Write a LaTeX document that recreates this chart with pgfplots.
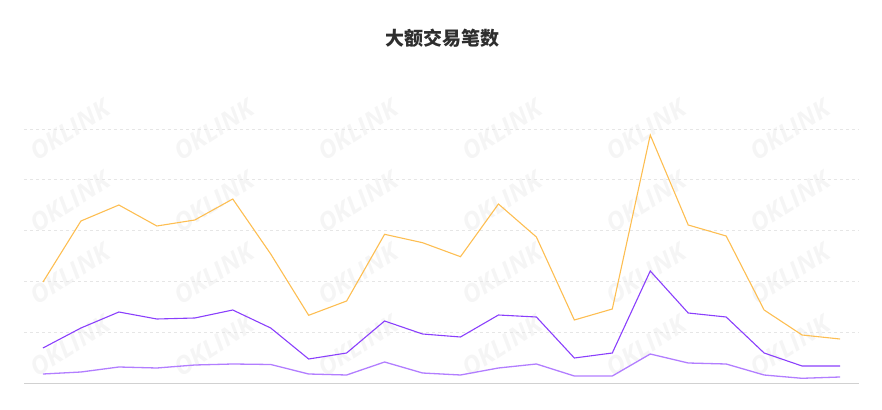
\documentclass[border=0pt]{standalone}
\usepackage{fontspec}
\usepackage{pgfplots}
\pgfplotsset{compat=1.18}
\setmainfont{Noto Sans}
\newfontfamily\cjk{Noto Sans CJK SC}
\newfontfamily\wm{Open Sans}
\definecolor{ylw}{HTML}{FDBE52}
\definecolor{pur}{HTML}{8A3FFC}
\definecolor{lpur}{HTML}{B27EFF}
\definecolor{gridc}{HTML}{E6E6E6}
\pgfdeclarelayer{bg}
\pgfsetlayers{bg,main}

% heights (one grid step = 50.8)
\pgfplotstableread{
x  big   mid  small
0  101   35   9
1  162   55   11
2  178   71   16
3  157   64   15
4  163   65   18
5  184   73   19
6  129   55   18.5
7  67.7  24   9
8  82    30   8
9  148.7 62   21
10 140.3 49   10
11 126.3 46   8
12 179   68   15
13 146   66   19
14 63    25   7
15 74    30   7
16 248   112  29
17 158   70   20
18 147   66   19
19 73    30   8
20 48    17   4.7
21 44    17   6
}\datatab

\begin{document}
\begin{tikzpicture}
\begin{axis}[
    scale only axis, width=835pt, height=254pt,
    xmin=-0.5, xmax=21.5, ymin=0, ymax=254,
    axis x line=bottom, axis y line=left,
    x axis line style={draw=black!18, line width=0.8pt, -},
    y axis line style={draw=none},
    xtick=\empty,
    ytick={50.8,101.6,152.4,203.2,254},
    yticklabel=\empty,
    major tick length=0pt,
    ymajorgrids=true,
    grid style={draw=gridc, dashed, line width=0.6pt},
    no markers,
    clip=false,
  ]
  \coordinate (pa) at (rel axis cs:0,0);
  \addplot[draw=ylw, line width=1.1pt] table[x=x, y=big] {\datatab};
  \addplot[draw=pur, line width=1.1pt] table[x=x, y=mid] {\datatab};
  \addplot[draw=lpur, line width=1.3pt] table[x=x, y=small] {\datatab};
\end{axis}
\pgfresetboundingbox
\begin{scope}[shift={([shift={(-24pt,-26pt)}]pa)}, x=1pt, y=1pt]
  \useasboundingbox (0,0) rectangle (882,409);
  \begin{pgfonlayer}{bg}
  \foreach \cx in {70,214,358,502,646,790}
    \foreach \cy in {130,202,274,346}
      \node[rotate=33, text=black!4, font=\wm\bfseries\itshape\fontsize{25}{25}\selectfont]
        at ({\cx},{409-\cy}) {OKLINK};
  \end{pgfonlayer}
  \node[font=\cjk\bfseries\fontsize{19}{20}\selectfont, text=black!82] at (442,371) {大额交易笔数};
\end{scope}
\end{tikzpicture}
\end{document}
